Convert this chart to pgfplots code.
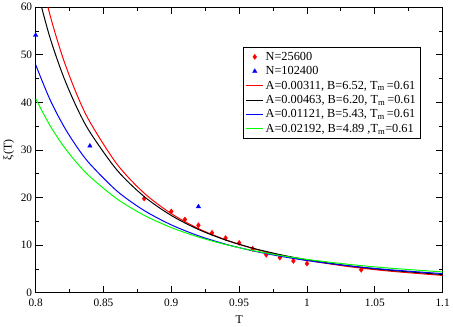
\documentclass[border=0pt]{standalone}
\usepackage{fontspec}
\setmainfont{Liberation Serif}
\usepackage{pgfplots}
\pgfplotsset{compat=1.18}
\begin{document}
\begin{tikzpicture}
\begin{axis}[
  scale only axis, width=413pt, height=290pt,
  xmin=0.8, xmax=1.1, ymin=0, ymax=60,
  xtick={0.8,0.85,0.9,0.95,1,1.05,1.1},
  xticklabels={0.8,0.85,0.9,0.95,1,1.05,1.1},
  ytick={0,10,20,30,40,50,60},
  minor x tick num=1, minor y tick num=1,
  major tick length=7pt, minor tick length=3.5pt,
  tick style={black, line width=0.8pt},
  axis line style={line width=0.9pt},
  xlabel={T}, ylabel={ξ(T)},
  ticklabel style={font=\fontsize{11.5}{13}\selectfont},
  label style={font=\fontsize{12}{14}\selectfont},
  xticklabel style={yshift=-2.5pt},
  xlabel style={yshift=-2pt},
  /pgf/number format/assume math mode=true,
  clip mode=individual,
  legend cell align=left,
  legend style={at={(0.51,0.859)}, anchor=north west, draw=black,
    font=\fontsize{12.5}{14}\selectfont, row sep=0.8pt, inner sep=2.5pt},
]
\addplot[only marks, mark=diamond*, mark size=2.6pt, color=red] coordinates {
(0.88,19.8) (0.90,17.1) (0.91,15.4) (0.92,14.2) (0.93,12.6) (0.94,11.5) (0.95,10.5)
(0.96,9.25) (0.97,8.0) (0.98,7.4) (0.99,6.7) (1.00,6.15) (1.04,4.85)};
\addlegendentry{N=25600}
\addplot[only marks, mark=triangle*, mark size=2.6pt, color=blue] coordinates {
(0.80,54.1) (0.84,30.85) (0.92,18.1)};
\addlegendentry{N=102400}
\addplot[red, line width=1pt, smooth] coordinates {
(0.80,71.2) (0.81,58.96) (0.82,49.44) (0.83,41.91) (0.84,35.89) (0.86,27.01) (0.88,20.94)
(0.90,16.64) (0.92,13.50) (0.94,11.15) (0.96,9.345) (0.98,7.938) (1.00,6.826) (1.03,5.542)
(1.06,4.590) (1.10,3.660)};
\addlegendentry{A=0.00311, B=6.52, T\textsubscript{m}\,=0.61}
\addplot[black, line width=1pt, smooth] coordinates {
(0.80,64.76) (0.81,54.13) (0.82,45.78) (0.83,39.13) (0.84,33.76) (0.86,25.77) (0.88,20.23)
(0.90,16.25) (0.92,13.32) (0.94,11.10) (0.96,9.390) (0.98,8.042) (1.00,6.965) (1.03,5.714)
(1.06,4.775) (1.10,3.851)};
\addlegendentry{A=0.00463, B=6.20, T\textsubscript{m}\,=0.61}
\addplot[blue, line width=1pt, smooth] coordinates {
(0.80,47.92) (0.81,40.95) (0.82,35.36) (0.83,30.82) (0.84,27.08) (0.86,21.37) (0.88,17.29)
(0.90,14.28) (0.92,11.99) (0.94,10.23) (0.96,8.830) (0.98,7.709) (1.00,6.797) (1.03,5.715)
(1.06,4.885) (1.10,4.045)};
\addlegendentry{A=0.01121, B=5.43, T\textsubscript{m}\,=0.61}
\addplot[green, line width=1pt, smooth] coordinates {
(0.80,40.80) (0.81,35.41) (0.82,31.03) (0.83,27.42) (0.84,24.41) (0.86,19.72) (0.88,16.29)
(0.90,13.71) (0.92,11.72) (0.94,10.15) (0.96,8.895) (0.98,7.871) (1.00,7.027) (1.03,6.012)
(1.06,5.219) (1.10,4.404)};
\addlegendentry{A=0.02192, B=4.89 ,T\textsubscript{m}=0.61}
\end{axis}
\end{tikzpicture}
\end{document}
